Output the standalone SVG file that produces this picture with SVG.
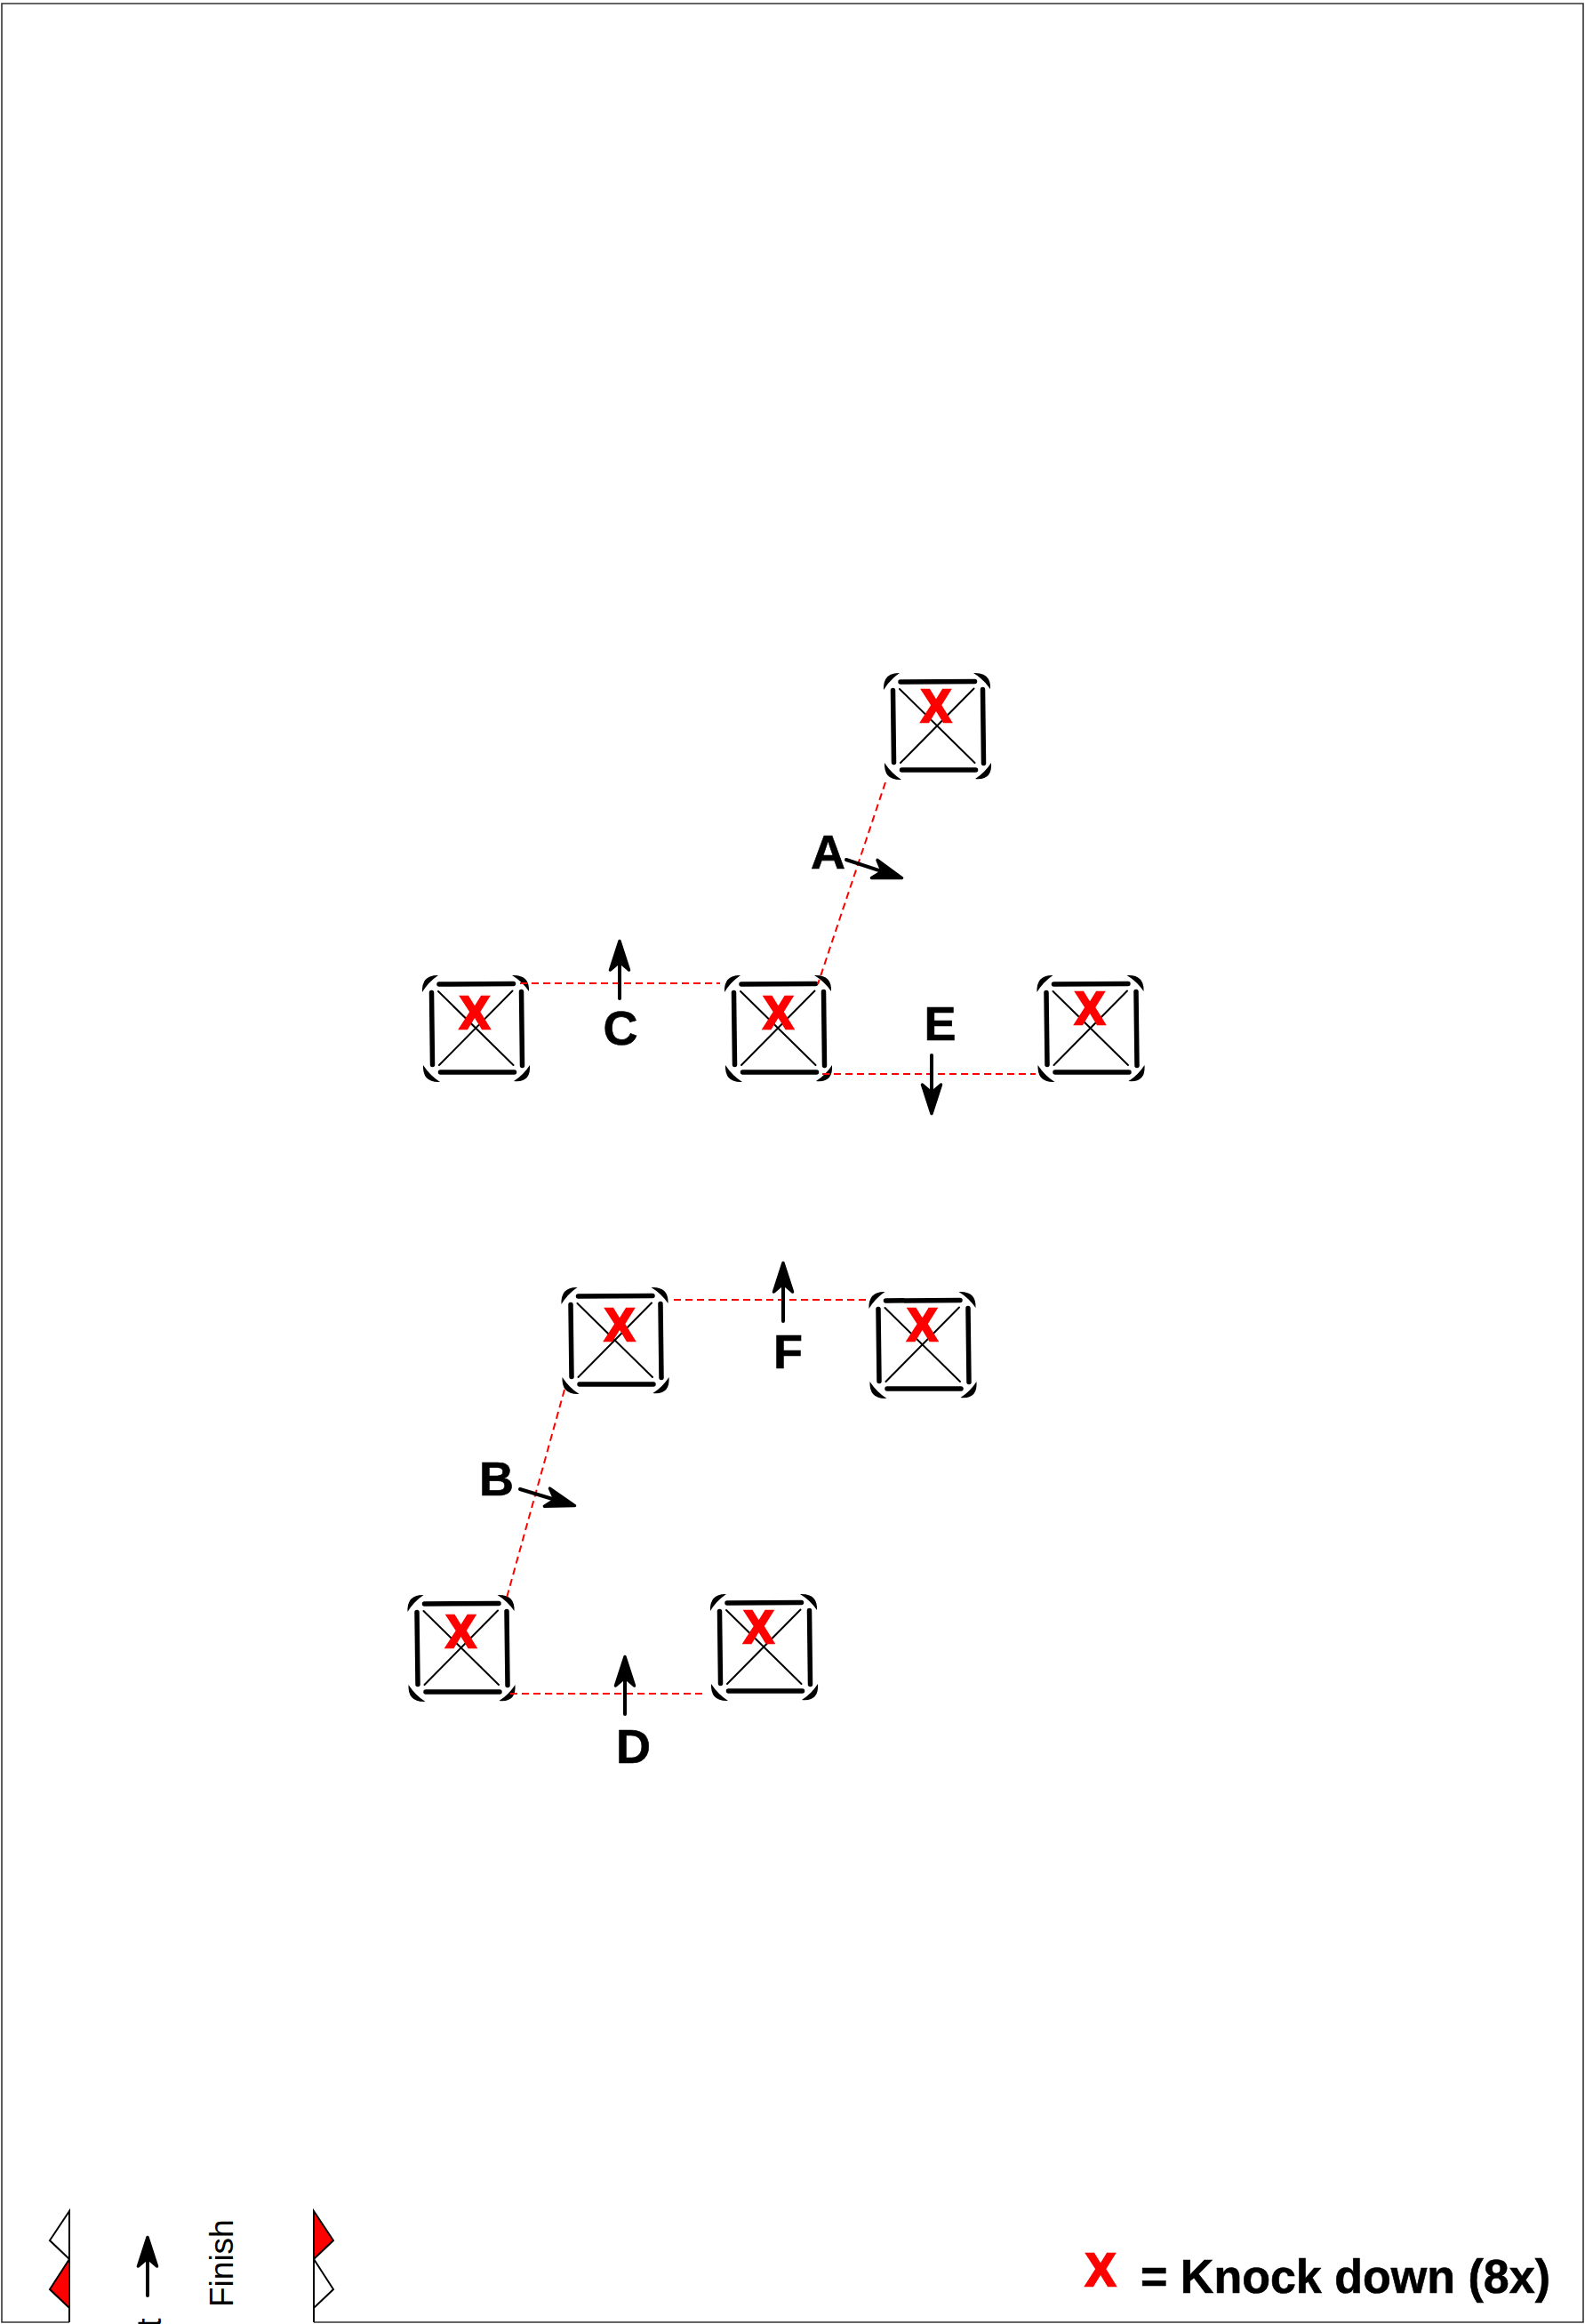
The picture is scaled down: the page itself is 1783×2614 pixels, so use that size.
<svg xmlns="http://www.w3.org/2000/svg" width="1783" height="2614" viewBox="0 0 1783 2614">
<style>
text{font-family:"Liberation Sans",Arial,sans-serif}
.bar{stroke:#000;stroke-width:5.500;stroke-linecap:round;fill:none}
.diag{stroke:#000;stroke-width:2;stroke-linecap:round;fill:none}
.cor{fill:#000;stroke:none}
.x{fill:#f00;stroke:#f00;stroke-width:2.500;font-weight:700;font-size:51px;text-anchor:middle}
.lab{fill:#000;stroke:#000;stroke-width:.6;font-weight:700;font-size:54px}
.red{stroke:#f00;stroke-width:2;stroke-dasharray:8 5;fill:none}
.arr{stroke:#000;stroke-width:4;stroke-linecap:round;fill:none;marker-end:url(#head)}
.frame{stroke:#333;stroke-width:1.6;fill:none}
.flag{stroke:#000;stroke-width:2;stroke-linejoin:miter}
</style>
<defs>
<marker id="head" markerUnits="userSpaceOnUse" markerWidth="46" markerHeight="34" viewBox="-14 -17 46 34" refX="0" refY="0" orient="auto" overflow="visible">
<path d="M24.500,0 L-8,-10.500 L1,0 L-8,10.500 Z" fill="#000" stroke="#000" stroke-width="3.500" stroke-linejoin="round"/>
</marker>
<g id="box">
<path class="bar" d="M-41.500,-50 L42,-50.500 M-40,49 L43,49 M-50,-40.500 L-49,40.500 M51,-41.500 L52,41.500"/>
<path class="diag" d="M-42.500,-42 L42,41 M-41.500,41 L41,-42.500"/>
<path class="cor" d="M-60.500,-41 Q-61.500,-60.500 -42.500,-60 Q-53.500,-52.500 -60.500,-41 Z"/>
<path class="cor" d="M40.500,-60 Q60.500,-61 59.500,-42 Q52,-53 40.500,-60 Z"/>
<path class="cor" d="M60.500,41 Q62,61 42.500,59 Q53.500,52 60.500,41 Z"/>
<path class="cor" d="M-59.500,41 Q-60.500,61 -40.500,60 Q-52,52.500 -59.500,41 Z"/>
</g>
</defs>
<rect width="1783" height="2614" fill="#fff"/>
<g id="frame">
<path class="frame" d="M78,2612 H2 V4 H1781 V2612 H353"/>
</g>
<g id="gate-left">
<path class="flag" d="M78,2487 V2612" fill="none"/>
<path class="flag" d="M78,2487 L56,2520 L78,2541 Z" fill="#fff"/>
<path class="flag" d="M78,2541 L56,2575 L78,2596 Z" fill="#f00"/>
</g>
<g id="gate-right">
<path class="flag" d="M353,2487 V2612" fill="none"/>
<path class="flag" d="M353,2487 L375,2520 L353,2541 Z" fill="#f00"/>
<path class="flag" d="M353,2541 L375,2575 L353,2596 Z" fill="#fff"/>
</g>
<g id="node-1"><use href="#box" transform="translate(1054.500,817)"/><text class="x" x="1053" y="812">X</text></g>
<g id="node-2"><use href="#box" transform="translate(535.500,1157)"/><text class="x" x="534" y="1157">X</text></g>
<g id="node-3"><use href="#box" transform="translate(875.500,1157)"/><text class="x" x="875.500" y="1157">X</text></g>
<g id="node-4"><use href="#box" transform="translate(1227,1157)"/><text class="x" x="1226" y="1152">X</text></g>
<g id="node-5"><use href="#box" transform="translate(692,1508)"/><text class="x" x="697" y="1508">X</text></g>
<g id="node-6"><use href="#box" transform="translate(1038,1513)"/><text class="x" x="1037.500" y="1508">X</text></g>
<g id="node-7"><use href="#box" transform="translate(519,1854)"/><text class="x" x="518.500" y="1853">X</text></g>
<g id="node-8"><use href="#box" transform="translate(859.500,1853)"/><text class="x" x="853.500" y="1848">X</text></g>
<g id="connectors">
<path class="red" d="M996,880 L920,1107"/>
<path class="red" d="M585,1106 L810,1106"/>
<path class="red" d="M925,1208 L1165,1208"/>
<path class="red" d="M758,1462 L977,1462"/>
<path class="red" d="M635,1563 L570,1797"/>
<path class="red" d="M574,1905 L792,1905"/>
<path class="arr" d="M952,967 L991.300,979.900"/>
<path class="arr" d="M697,1123 L697,1083"/>
<path class="arr" d="M1048,1187 L1048,1228"/>
<path class="arr" d="M881,1486 L881,1445"/>
<path class="arr" d="M585,1675 L623.100,1686.500"/>
<path class="arr" d="M703,1928 L703,1888"/>
<path class="arr" d="M166,2582 L166,2541"/>
</g>
<g id="labels">
<text class="lab" x="912" y="977">A</text>
<text class="lab" x="539" y="1682">B</text>
<text class="lab" x="678.500" y="1175">C</text>
<text class="lab" x="693" y="1983">D</text>
<text class="lab" x="1039.500" y="1170">E</text>
<text class="lab" x="870" y="1539">F</text>
<text transform="translate(262,2595) rotate(-90)" font-size="37" fill="#000">Finish</text>
<text transform="translate(181,2618) rotate(-90)" font-size="38" fill="#000">t</text>
</g>
<g id="legend">
<text class="x" x="1238" y="2571">X</text>
<text x="1283" y="2579" font-size="53" font-weight="700" fill="#000" stroke="#000" stroke-width=".6" textLength="461" lengthAdjust="spacingAndGlyphs">= Knock down (8x)</text>
</g>
</svg>
